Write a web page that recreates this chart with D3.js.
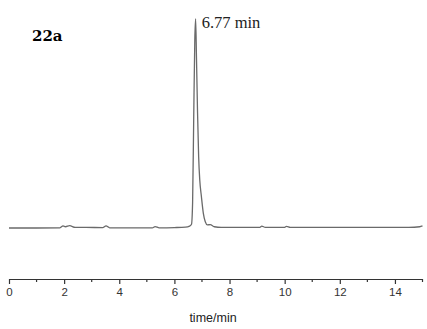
<!DOCTYPE html>
<html>
<head>
<meta charset="utf-8">
<script src="https://cdn.jsdelivr.net/npm/d3@7"></script>
<style>
    body { margin: 0; background: #fff; }
</style>
</head>
<body>
<div id="chart"></div>
<script>
// retention time (min) and detector response (relative, peak = 100)
const times = [0, 1.0, 1.85, 1.96, 2.05, 2.2, 2.4, 2.8, 3.4, 3.52, 3.65, 4.5, 5.2, 5.3, 5.45, 6.0, 6.4, 6.55,
    6.62, 6.66, 6.7, 6.74, 6.77, 6.8, 6.84, 6.88, 6.92, 6.98, 7.05, 7.12, 7.2, 7.3, 7.45, 7.7, 8.5, 9.1, 9.17, 9.3,
    10.0, 10.07, 10.2, 11.5, 13.0, 14.5, 14.9, 15.0];
const response = [0, 0, 0.1, 1.0, 0.6, 1.1, 0.3, 0.3, 0.2, 1.0, 0.1, 0.1, 0.1, 0.7, 0.1, 0.2, 0.4, 0.9,
    1.8, 12, 52, 90, 100, 82, 55, 34, 23, 15, 7, 3, 1.5, 1.6, 0.6, 0.3, 0.3, 0.3, 0.9, 0.3,
    0.3, 0.8, 0.3, 0.3, 0.3, 0.3, 0.6, 1.0];
const xTicks = [0, 2, 4, 6, 8, 10, 12, 14];
const xMinorTicks = [1, 3, 5, 7, 9, 11, 13, 15];
const peakLabel = "6.77 min";
const sampleLabel = "22a";
const axisTitle = "time/min";

const data = times.map((t, i) => ({ t: t, v: response[i] }));

const width = 427;
const height = 329;

const svg = d3.select("#chart")
    .append("svg")
    .attr("width", width)
    .attr("height", height);

const xScale = d3.scaleLinear()
    .domain([0, 15])
    .range([9, 422.5]);

const yScale = d3.scaleLinear()
    .domain([0, 100])
    .range([228, 19]);

const lineGenerator = d3.line()
    .x(d => xScale(d.t))
    .y(d => yScale(d.v))
    .curve(d3.curveMonotoneX);

svg.append("path")
    .attr("d", lineGenerator(data))
    .attr("fill", "none")
    .attr("stroke", "#6a6a6a")
    .attr("stroke-width", 1.3);

// x axis, ticks pointing down
const axisY = 279;
const bottomAxis = d3.axisBottom(xScale)
    .tickValues(xTicks)
    .tickSize(5)
    .tickSizeOuter(0)
    .tickPadding(4);

const axisG = svg.append("g")
    .attr("transform", `translate(0, ${axisY})`)
    .call(bottomAxis);

axisG.select(".domain")
    .attr("stroke", "#333")
    .attr("stroke-width", 1.2);

axisG.selectAll(".tick line")
    .attr("stroke", "#333")
    .attr("stroke-width", 1.2);

axisG.selectAll(".tick text")
    .attr("fill", "#333")
    .style("font-family", "'Liberation Sans', Arial, sans-serif")
    .style("font-size", "11.5px");

svg.append("g")
    .selectAll("line")
    .data(xMinorTicks)
    .join("line")
        .attr("x1", d => xScale(d))
        .attr("x2", d => xScale(d))
        .attr("y1", axisY)
        .attr("y2", axisY + 3)
        .attr("stroke", "#333")
        .attr("stroke-width", 1.2);

svg.append("text")
    .text(axisTitle)
    .attr("x", xScale(7.4))
    .attr("y", 322)
    .attr("text-anchor", "middle")
    .attr("fill", "#222")
    .style("font-family", "'Liberation Sans', Arial, sans-serif")
    .style("font-size", "12.5px");

svg.append("text")
    .text(peakLabel)
    .attr("x", xScale(6.77) + 6)
    .attr("y", 28)
    .attr("fill", "#222")
    .style("font-family", "'Liberation Serif', 'Times New Roman', serif")
    .style("font-size", "16.5px");

svg.append("text")
    .text(sampleLabel)
    .attr("x", 32)
    .attr("y", 41)
    .attr("fill", "#000")
    .style("font-family", "'DejaVu Serif', serif")
    .style("font-weight", "bold")
    .style("font-size", "15px");
</script>
</body>
</html>
